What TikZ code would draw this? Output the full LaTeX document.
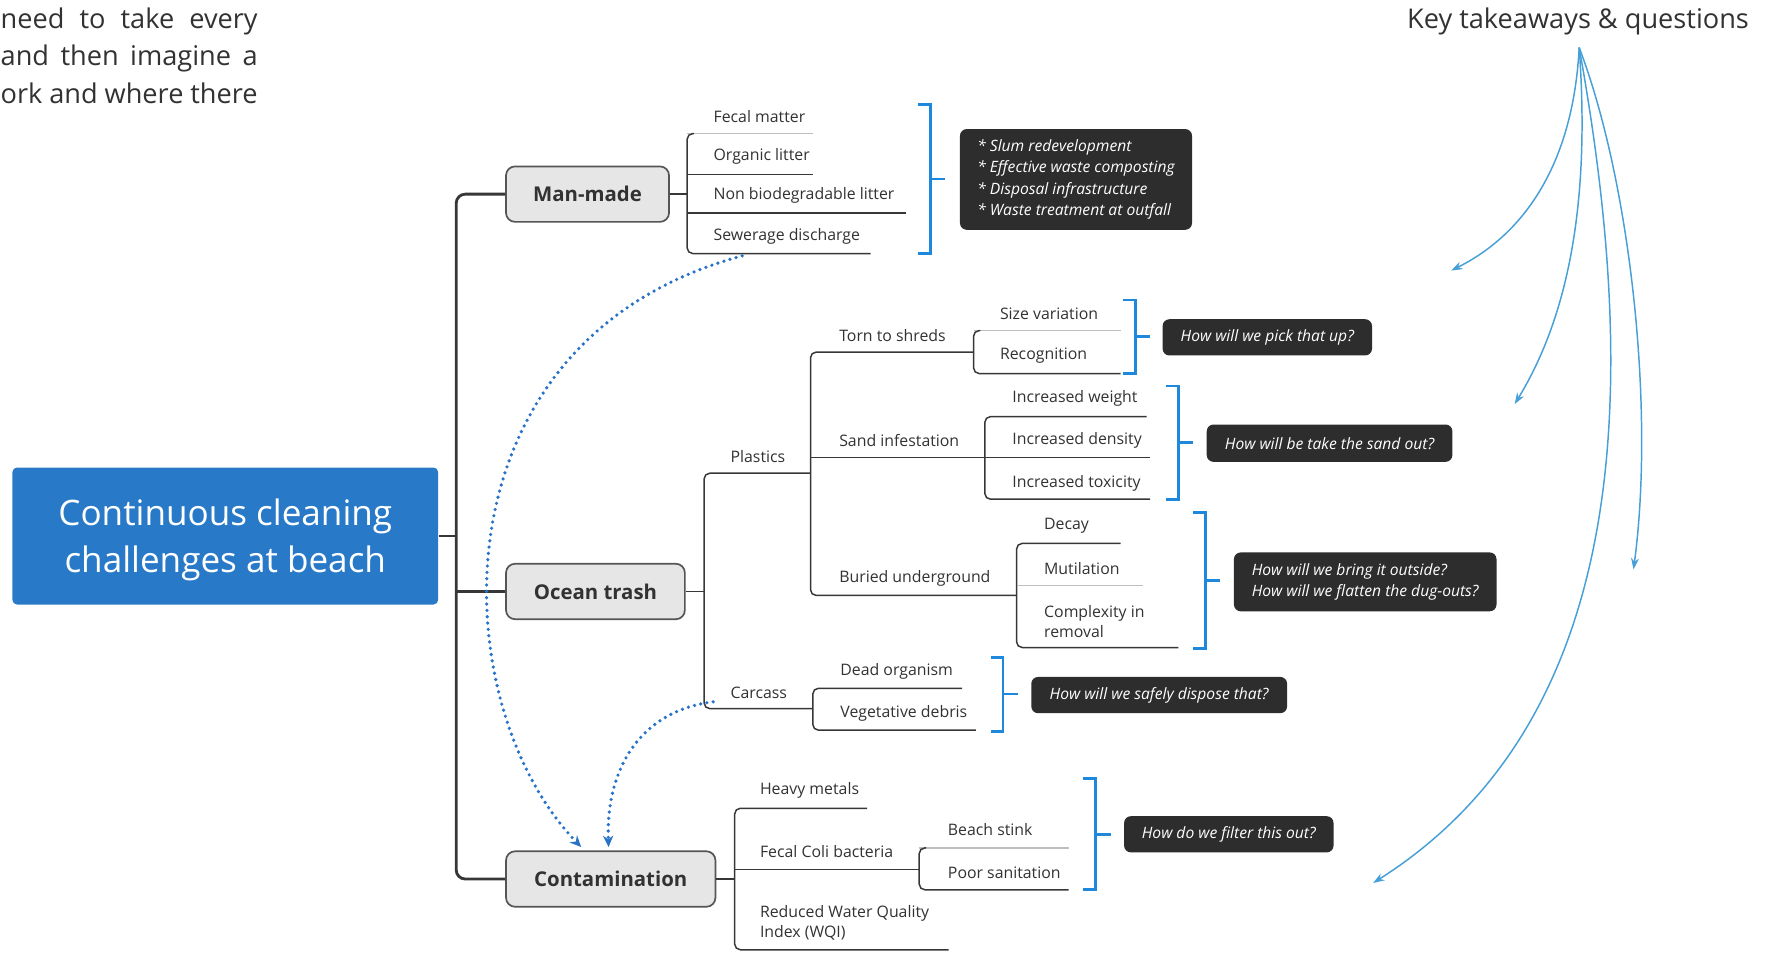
\documentclass[tikz,border=0pt]{standalone}
\usepackage{fontspec}
\setmainfont{Open Sans}
\usetikzlibrary{arrows.meta,calc}
\definecolor{rootblue}{RGB}{40,122,200}
\definecolor{brblue}{RGB}{30,136,220}
\definecolor{dotblue}{RGB}{40,115,200}
\definecolor{thinblue}{RGB}{70,160,215}
\definecolor{darkbox}{RGB}{45,45,45}
\definecolor{boxfill}{RGB}{230,230,230}
\definecolor{boxborder}{RGB}{85,85,85}
\definecolor{txtgray}{RGB}{50,50,50}
\definecolor{linegray}{RGB}{55,55,55}
\definecolor{lightline}{RGB}{190,190,190}
\newcommand\topic[7]{%
  \node[ct] (#1) at (#3,#4) {#7};
  \coordinate (#1-l) at (#2,#5);
  \coordinate (#1-r) at (#6,#5);}
\newcommand\bluebracket[4]{%
  \draw[brk] (#1-11,#2) -- (#1,#2) -- (#1,#3) -- (#1-11,#3);
  \draw[brk] (#1,#4) -- (#1+13,#4);}
\newcommand\jsp{\hskip 3pt plus 1fil\relax}
\begin{document}
\begin{tikzpicture}[x=0.5pt,y=-0.5pt,
  ct/.style={font=\fontsize{7}{9}\selectfont, text=txtgray, inner sep=0pt, anchor=west, align=left},
  uline/.style={draw=linegray, line width=0.65pt},
  ulight/.style={draw=lightline, line width=0.65pt},
  vbar/.style={draw=linegray, line width=0.65pt, rounded corners=2.5pt},
  lone/.style={draw=boxborder, fill=boxfill, line width=0.75pt, rounded corners=4pt,
     font=\fontsize{9}{11}\selectfont\bfseries, text=txtgray, minimum height=24.5pt, inner sep=0pt},
  qbox/.style={fill=darkbox, rounded corners=3pt, text=white,
     font=\fontsize{6.9}{9.5}\selectfont\itshape, align=left, inner sep=0pt},
  brk/.style={draw=brblue, line width=1.2pt},
  trunk/.style={draw=linegray, line width=1.25pt, rounded corners=4pt},
  dots/.style={draw=dotblue, line width=1.6pt, dash pattern=on 0pt off 2.8pt, line cap=round,
     -{Stealth[length=5pt,width=4.5pt]}},
  thinarrow/.style={draw=thinblue, line width=0.65pt, -{Stealth[length=5pt,width=3.5pt]}},
  big/.style={font=\fontsize{12}{16}\selectfont, text=txtgray, inner sep=0pt}
]
\useasboundingbox (0,0) rectangle (1568,841);
\clip (0,0) rectangle (1568,841);

% top texts
\node[big, anchor=base east] (t1) at (228,25) {\hbox to 113.5pt{need\jsp to\jsp take\jsp every}};
\node[big, anchor=base east] (t2) at (228,58) {\hbox to 113.5pt{and\jsp then\jsp imagine\jsp a}};
\node[big, anchor=base east] (t3) at (228,91) {\hbox to 113.5pt{ork\jsp and\jsp where\jsp there}};
\node[big, anchor=base] (kt) at (1394,25) {Key takeaways \& questions};

% root and level 1
\node[fill=rootblue, rounded corners=2pt, minimum width=188pt, minimum height=60.5pt, inner sep=0pt]
  (root) at (199,473.5) {};
\node[text=white, font=\fontsize{15.5}{21}\selectfont, align=center, inner sep=0pt]
  (roottxt) at (199,477) {Continuous cleaning\\challenges at beach};
\node[lone, minimum width=72pt] (mm) at (519,171.5) {Man-made};
\node[lone, minimum width=79pt] (ot) at (526,522.5) {Ocean trash};
\node[lone, minimum width=92.5pt] (cont) at (539.5,776.5) {Contamination};

\coordinate (tj) at (403,473.5);
\draw[trunk] (root.east) -- (tj);
\draw[trunk] (mm.west) -| (tj) |- (cont.west);
\draw[trunk] (tj |- ot.west) -- (ot.west);

% Man-made children
\topic{fecal}{607}{630}{103}{118}{718}{Fecal matter}
\topic{organic}{607}{630}{138}{154}{718}{Organic litter}
\topic{nonbio}{607}{630}{173}{188}{800}{Non biodegradable litter}
\topic{sewer}{607}{630}{209}{224}{769}{Sewerage discharge}
\draw[uline] (mm.east) -- (mm.east -| fecal-l);
\draw[ulight] (fecal-l) -- (fecal-r);
\draw[vbar] ($(fecal-l)+(6,0)$) -- (fecal-l) -- (sewer-l) -- (sewer-r);
\draw[uline] (organic-l) -- (organic-r);
\draw[uline] (nonbio-l) -- (nonbio-r);

% Ocean trash children
\topic{plastics}{622}{645}{403}{418}{716}{Plastics}
\topic{carcass}{622}{645}{612}{626}{718}{Carcass}
\draw[uline] (ot.east) -- (ot.east -| plastics-l);
\draw[vbar] (plastics-r) -- (plastics-l) -- (carcass-l) -- (carcass-r);

% Plastics children
\topic{torn}{716}{741}{296}{311}{860}{Torn to shreds}
\topic{sand}{716}{741}{389}{404}{870}{Sand infestation}
\topic{buried}{716}{741}{511}{526}{898}{Buried underground}
\draw[vbar] (torn-r) -- (torn-l) -- (buried-l) -- (buried-r);
\draw[uline] (sand-l) -- (sand-r);

% Torn children
\topic{size}{860}{883}{277}{292}{990}{Size variation}
\topic{recog}{860}{883}{314}{330}{990}{Recognition}
\draw[ulight] (size-l) -- (size-r);
\draw[vbar] ($(size-l)+(6,0)$) -- (size-l) -- (recog-l) -- (recog-r);

% Sand children
\topic{weight}{870}{894}{352}{368}{1013}{Increased weight}
\topic{density}{870}{894}{389}{404}{1016}{Increased density}
\topic{toxic}{870}{894}{427}{441}{1016}{Increased toxicity}
\draw[vbar] (weight-r) -- (weight-l) -- (toxic-l) -- (toxic-r);
\draw[uline] (density-l) -- (density-r);

% Buried children
\topic{decay}{898}{922}{464}{480}{990}{Decay}
\topic{mutil}{898}{922}{502}{517}{1010}{Mutilation}
\topic{complex}{898}{922}{549}{572}{1041}{Complexity in\\removal}
\draw[vbar] (decay-r) -- (decay-l) -- (complex-l) -- (complex-r);
\draw[ulight] ($(mutil-l)+(1,0)$) -- (mutil-r);

% Carcass children
\topic{dead}{718}{742}{593}{608}{850}{Dead organism}
\topic{veg}{718}{742}{630}{645}{862}{Vegetative debris}
\draw[vbar] (dead-r) -- (dead-l) -- (veg-l) -- (veg-r);

% Contamination children
\topic{heavy}{649}{671}{698}{714}{766}{Heavy metals}
\topic{fecoli}{649}{671}{752}{768}{812}{Fecal Coli bacteria}
\topic{wqi}{649}{671}{815}{839}{838}{Reduced Water Quality\\Index (WQI)}
\draw[uline] (cont.east) -- (cont.east -| heavy-l);
\draw[vbar] (heavy-r) -- (heavy-l) -- (wqi-l) -- (wqi-r);
\draw[uline] (fecoli-l) -- (fecoli-r);

% Fecal coli children
\topic{stink}{812}{837}{733}{749}{944}{Beach stink}
\topic{poor}{812}{837}{771}{786}{944}{Poor sanitation}
\draw[ulight] (stink-l) -- (stink-r);
\draw[vbar] ($(stink-l)+(6,0)$) -- (stink-l) -- (poor-l) -- (poor-r);

% blue brackets
\bluebracket{822}{92}{224}{158}
\bluebracket{1003}{265}{330}{297}
\bluebracket{1041}{341}{441}{391}
\bluebracket{1065}{453}{573}{513}
\bluebracket{886}{581}{646}{613}
\bluebracket{968}{688}{786}{737}

% question boxes
\node[qbox, minimum width=102.5pt, minimum height=44.5pt] (q1) at (950.5,158.5)
  {* Slum redevelopment\\* Effective waste composting\\* Disposal infrastructure\\* Waste treatment at outfall};
\node[qbox, minimum width=92.5pt, minimum height=16pt] (q2) at (1119.5,298) {How will we pick that up?};
\node[qbox, minimum width=108.5pt, minimum height=16.5pt] (q3) at (1174.5,391.5) {How will be take the sand out?};
\node[qbox, minimum width=116pt, minimum height=26pt] (q4) at (1206,514)
  {How will we bring it outside?\\How will we flatten the dug-outs?};
\node[qbox, minimum width=113pt, minimum height=16pt] (q5) at (1024,614) {How will we safely dispose that?};
\node[qbox, minimum width=92.5pt, minimum height=16pt] (q6) at (1085.5,737) {How do we filter this out?};

% dotted arrows
\coordinate (d1s) at ($(sewer-l)!0.3!(sewer-r)+(0,2)$);
\coordinate (d1e) at ($(cont.north west)!0.36!(cont.north east)+(0,-3)$);
\draw[dots] (d1s) .. controls (380,300) and (390,620) .. (d1e);
\coordinate (d2s) at ($(carcass-l)+(8,-6)$);
\coordinate (d2e) at ($(cont.north west)!0.49!(cont.north east)+(0,-3)$);
\draw[dots] (d2s) .. controls (565,628) and (535,680) .. (d2e);

% thin arrows from key takeaways
\coordinate (kts) at (1395,42);
\coordinate (a1) at (1282,239);
\coordinate (a2) at (1338,357);
\coordinate (a3) at (1213,780);
\coordinate (a4) at (1443,503);
\draw[thinarrow] (kts) .. controls (1390,140) and (1350,205) .. (a1);
\draw[thinarrow] (kts) .. controls (1405,180) and (1385,280) .. (a2);
\draw[thinarrow] (kts) .. controls (1445,320) and (1450,630) .. (a3);
\draw[thinarrow] (kts) .. controls (1440,160) and (1462,360) .. (a4);
\end{tikzpicture}
\end{document}
